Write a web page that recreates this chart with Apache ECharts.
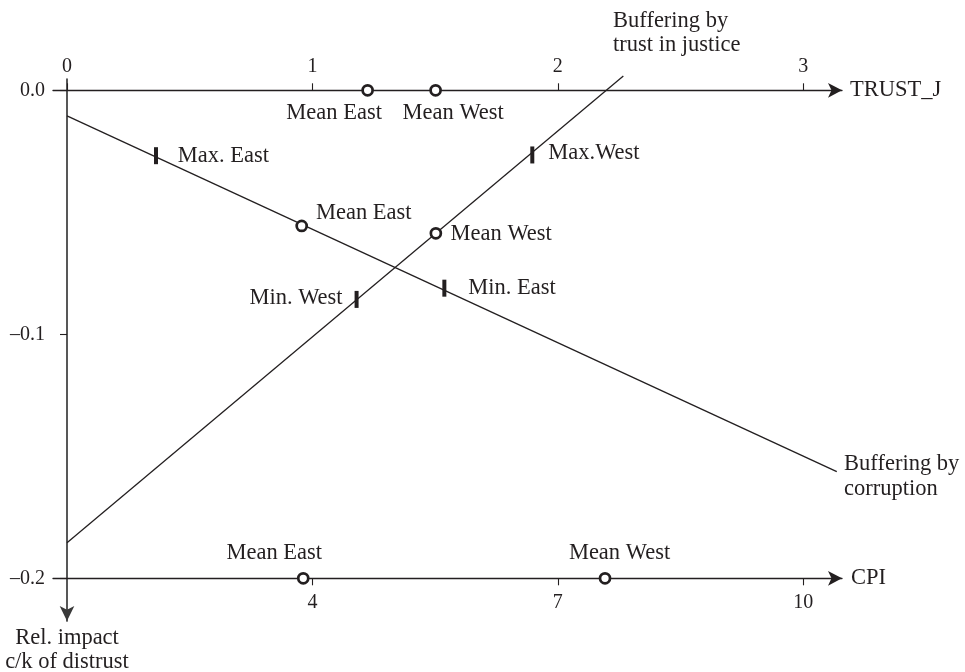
<!DOCTYPE html>
<html>
<head>
<meta charset="utf-8">
<script src="https://cdn.jsdelivr.net/npm/echarts@6/dist/echarts.min.js"></script>
<style>
html,body{margin:0;padding:0;background:#fff;}
#chart{width:965px;height:672px;}
</style>
</head>
<body>
<div id="chart"></div>
<script>
// axis ticks
var trustTicks=[0,1,2,3];
var cpiTicks=[4,7,10];
var impactTicks=[0,-0.1,-0.2];

// buffering lines (end points)
var trustLineX=[0,2.267];
var trustLineY=[-0.1854,0.0059];
var cpiLineX=[1,10.41];
var cpiLineY=[-0.0105,-0.1563];

// marks on the trust-in-justice line
var trustMarkNames=['Min. West','Mean West','Max.West'];
var trustMarkX=[1.18,1.503,1.896];
var trustMarkY=[-0.0857,-0.0586,-0.0265];

// marks on the corruption line
var cpiMarkNames=['Max. East','Mean East','Min. East'];
var cpiMarkX=[2.088,3.869,5.613];
var cpiMarkY=[-0.0268,-0.0556,-0.0811];

// means on the axes
var trustMeanNames=['Mean East','Mean West'];
var trustMeanX=[1.225,1.502];
var cpiMeanNames=['Mean East','Mean West'];
var cpiMeanX=[3.888,7.577];

var ink='#231f20';
var font='Liberation Serif';

// label placement: [align, dx, dy] from the mark
var markLabels={
	'Max. East':['left',21.7,0],
	'Mean East':['left',14.3,-12.7],
	'Min. East':['left',24,0],
	'Min. West':['right',-14,-1],
	'Mean West':['left',14.7,1],
	'Max.West':['left',16,-1.7]
};
var topMeanLabels=[[-33.5,22.7],[17.6,22.7]];
var bottomMeanLabels=[[-29,-25],[14.5,-25]];

function lbl(text,align,dx,dy){
	return {show:true,position:'inside',formatter:text,align:align,verticalAlign:'middle',
		offset:[dx,dy],color:ink,opacity:1,fontFamily:font,fontSize:22.5,lineHeight:24.5};
}

function pts(xs,ys){
	var out=[];
	for(var i=0;i<xs.length;i++){out.push([xs[i],ys[i]]);}
	return out;
}

function marks(names,xs,ys,isCircle){
	var out=[];
	for(var i=0;i<xs.length;i++){
		var s=markLabels[names[i]];
		var circle=isCircle(names[i]);
		out.push({
			value:[xs[i],ys[i]],
			symbol:circle?'circle':'rect',
			symbolSize:circle?10:[4,17],
			itemStyle:circle?{color:'#fff',borderColor:ink,borderWidth:2.7,opacity:1}:{color:ink,borderWidth:0,opacity:1},
			label:lbl(names[i],s[0],s[1],s[2])
		});
	}
	return out;
}
function isMean(n){return n.indexOf('Mean')==0;}

function axisMeans(names,xs,y,offs){
	var out=[];
	for(var i=0;i<xs.length;i++){
		out.push({value:[xs[i],y],label:lbl(names[i],'center',offs[i][0],offs[i][1])});
	}
	return out;
}

var chart=echarts.init(document.getElementById('chart'));

var option={
	animation:false,
	backgroundColor:'#fff',
	textStyle:{fontFamily:font,color:ink},
	grid:{left:53,right:123,top:79,bottom:51,containLabel:false,outerBoundsMode:'none'},
	xAxis:[
		{
			type:'value',position:'top',min:-0.05705,max:3.158,
			name:'TRUST_J',nameLocation:'end',nameGap:8,
			nameTextStyle:{fontFamily:font,fontSize:22.5,color:ink},
			splitLine:{show:false},
			axisLine:{onZero:true,onZeroAxisIndex:0,symbol:['none','arrow'],symbolSize:[11,14],
				lineStyle:{color:ink,width:1.3}},
			axisTick:{customValues:trustTicks,length:7,lineStyle:{color:ink,width:1.1}},
			axisLabel:{customValues:trustTicks,margin:2,fontFamily:font,fontSize:20,color:ink}
		},
		{
			type:'value',position:'bottom',offset:-42.7,min:0.82885,max:10.474,
			name:'CPI',nameLocation:'end',nameGap:9,
			nameTextStyle:{fontFamily:font,fontSize:22.5,color:ink},
			splitLine:{show:false},
			axisLine:{onZero:false,symbol:['none','arrow'],symbolSize:[11,14],
				lineStyle:{color:ink,width:1.3}},
			axisTick:{customValues:cpiTicks,length:7,lineStyle:{color:ink,width:1.1}},
			axisLabel:{customValues:cpiTicks,margin:14,fontFamily:font,fontSize:20,color:ink}
		}
	],
	yAxis:[
		{
			type:'value',min:-0.2175,max:0.00463,
			name:'Rel. impact\nc/k of distrust',nameLocation:'start',nameGap:5.5,
			nameTextStyle:{fontFamily:font,fontSize:22.5,color:ink,lineHeight:24,align:'center',verticalAlign:'top'},
			splitLine:{show:false},
			axisLine:{onZero:true,onZeroAxisIndex:0,symbol:['arrow','none'],symbolSize:[11,15],
				lineStyle:{color:'#3a3a3a',width:1.7}},
			axisTick:{customValues:impactTicks,length:7,lineStyle:{color:ink,width:1.1}},
			axisLabel:{customValues:impactTicks,margin:8,fontFamily:font,fontSize:20,color:ink,
				formatter:function(v){
					if(Math.abs(v)<1e-9){return '0.0';}
					return '\u2013'+Math.abs(v).toFixed(1);
				}}
		}
	],
	series:[
		{
			name:'Buffering by trust in justice',type:'line',xAxisIndex:0,yAxisIndex:0,
			data:pts(trustLineX,trustLineY),symbol:'none',clip:false,
			lineStyle:{color:ink,width:1.3},z:2
		},
		{
			name:'Buffering by corruption',type:'line',xAxisIndex:1,yAxisIndex:0,
			data:pts(cpiLineX,cpiLineY),symbol:'none',clip:false,
			lineStyle:{color:ink,width:1.3},z:2
		},
		{
			// line names at the line ends
			type:'scatter',xAxisIndex:0,yAxisIndex:0,clip:false,silent:true,
			symbol:'circle',symbolSize:1,itemStyle:{color:'rgba(0,0,0,0)',opacity:1},
			data:[{value:[trustLineX[1],trustLineY[1]],label:lbl('Buffering by\ntrust in justice','left',-10.3,-43)}],z:3
		},
		{
			type:'scatter',xAxisIndex:1,yAxisIndex:0,clip:false,silent:true,
			symbol:'circle',symbolSize:1,itemStyle:{color:'rgba(0,0,0,0)',opacity:1},
			data:[{value:[cpiLineX[1],cpiLineY[1]],label:lbl('Buffering by\ncorruption','left',7.3,5)}],z:3
		},
		{
			type:'scatter',xAxisIndex:0,yAxisIndex:0,clip:false,itemStyle:{opacity:1},
			data:marks(trustMarkNames,trustMarkX,trustMarkY,isMean),z:4
		},
		{
			type:'scatter',xAxisIndex:1,yAxisIndex:0,clip:false,itemStyle:{opacity:1},
			data:marks(cpiMarkNames,cpiMarkX,cpiMarkY,isMean),z:4
		},
		{
			type:'scatter',xAxisIndex:0,yAxisIndex:0,clip:false,
			symbol:'circle',symbolSize:10,itemStyle:{color:'#fff',borderColor:ink,borderWidth:2.7,opacity:1},
			data:axisMeans(trustMeanNames,trustMeanX,0,topMeanLabels),z:4
		},
		{
			type:'scatter',xAxisIndex:1,yAxisIndex:0,clip:false,
			symbol:'circle',symbolSize:10,itemStyle:{color:'#fff',borderColor:ink,borderWidth:2.7,opacity:1},
			data:axisMeans(cpiMeanNames,cpiMeanX,-0.2,bottomMeanLabels),z:4
		}
	]
};
chart.setOption(option);
</script>
</body>
</html>
